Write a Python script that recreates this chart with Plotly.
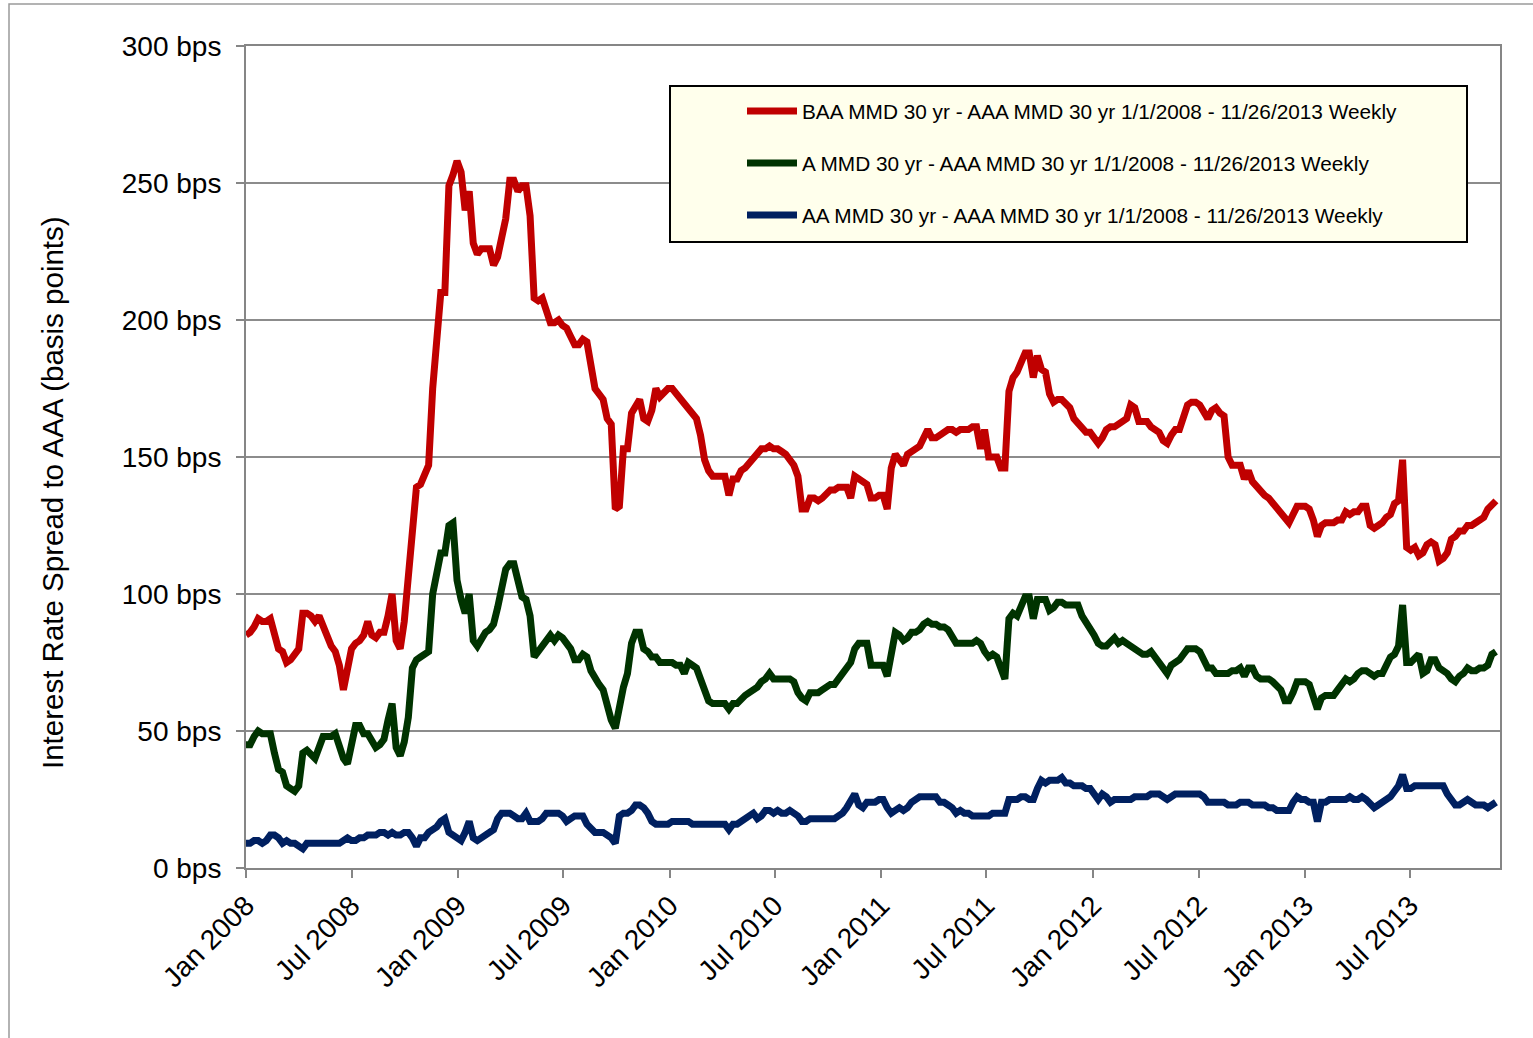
import pandas as pd
import plotly.graph_objects as go

# Weekly observation dates, 1/1/2008 through 11/26/2013
weeks = pd.date_range("2008-01-01", "2013-11-26", freq="7D")

# BAA MMD 30 yr minus AAA MMD 30 yr (bps), one value per week
baa_spread = [
    # 2008
    85, 86, 88, 91, 90, 90, 91, 84, 80, 79,
    75, 76, 78, 80, 93, 93, 92, 90, 92, 88,
    84, 81, 79, 74, 65, 73, 80, 82, 83, 85,
    90, 85, 84, 86, 86, 92, 100, 83, 80, 90,
    106, 123, 139, 140, 144, 147, 175, 190, 210, 210,
    249, 253, 258,
    # 2009
    254, 240, 247, 228, 224, 226, 226, 226, 220, 223,
    230, 237, 251, 251, 247, 249, 249, 238, 208, 207,
    208, 203, 199, 199, 200, 198, 197, 194, 191, 191,
    193, 192, 184, 175, 173, 171, 164, 162, 131, 132,
    153, 153, 166, 168, 171, 164, 163, 167, 175, 172,
    174, 175,
    # 2010
    175, 173, 172, 169, 168, 165, 164, 158, 149, 145,
    143, 143, 143, 143, 136, 142, 142, 145, 146, 148,
    150, 151, 153, 153, 154, 153, 153, 152, 151, 149,
    147, 143, 131, 131, 135, 135, 134, 135, 137, 138,
    138, 139, 139, 139, 135, 143, 142, 141, 140, 135,
    135, 136,
    # 2011
    136, 131, 146, 151, 149, 147, 151, 152, 153, 154,
    157, 160, 157, 157, 158, 159, 160, 160, 159, 160,
    160, 160, 161, 161, 153, 160, 150, 150, 150, 146,
    146, 174, 179, 181, 185, 188, 188, 179, 187, 182,
    181, 173, 170, 171, 171, 169, 168, 164, 162, 160,
    159, 159,
    # 2012
    157, 155, 157, 160, 161, 161, 162, 163, 164, 169,
    168, 163, 163, 163, 161, 160, 159, 156, 155, 158,
    160, 160, 165, 169, 170, 170, 169, 166, 164, 167,
    168, 166, 165, 150, 147, 147, 147, 142, 145, 141,
    139, 137, 136, 135, 133, 131, 130, 127, 126, 129,
    132, 132,
    # 2013
    132, 131, 127, 121, 125, 126, 126, 126, 127, 127,
    130, 129, 130, 130, 132, 132, 125, 124, 125, 126,
    128, 129, 133, 134, 149, 117, 116, 117, 114, 115,
    118, 119, 118, 112, 113, 115, 120, 121, 123, 123,
    125, 125, 126, 127, 128, 131, 133, 134,
]

# A MMD 30 yr minus AAA MMD 30 yr (bps)
a_spread = [
    # 2008
    45, 45, 48, 50, 49, 49, 49, 42, 36, 35,
    30, 29, 28, 30, 42, 43, 41, 40, 44, 48,
    48, 48, 49, 44, 40, 38, 45, 52, 52, 49,
    49, 46, 44, 45, 47, 54, 60, 44, 41, 46,
    55, 73, 76, 77, 78, 79, 100, 107, 115, 115,
    125, 126, 105,
    # 2009
    98, 93, 100, 83, 81, 84, 86, 87, 89, 95,
    102, 109, 111, 111, 105, 99, 98, 92, 77, 79,
    81, 83, 85, 83, 85, 84, 82, 80, 76, 76,
    78, 77, 72, 69, 67, 65, 59, 54, 51, 60,
    66, 71, 82, 86, 86, 80, 79, 77, 77, 75,
    75, 75,
    # 2010
    75, 74, 74, 71, 75, 74, 73, 69, 65, 61,
    60, 60, 60, 60, 58, 60, 60, 62, 63, 64,
    65, 66, 68, 69, 71, 69, 69, 69, 69, 69,
    68, 64, 62, 61, 64, 64, 64, 65, 66, 67,
    67, 69, 72, 74, 75, 80, 82, 82, 82, 74,
    74, 74,
    # 2011
    74, 70, 79, 86, 85, 83, 84, 86, 86, 87,
    89, 90, 89, 89, 88, 88, 87, 84, 82, 82,
    82, 82, 82, 83, 82, 79, 77, 78, 77, 73,
    69, 91, 93, 92, 96, 99, 99, 91, 98, 98,
    98, 94, 95, 97, 97, 96, 96, 96, 96, 92,
    90, 88,
    # 2012
    85, 82, 81, 81, 83, 84, 82, 83, 82, 81,
    80, 79, 78, 78, 79, 77, 75, 73, 71, 74,
    75, 76, 78, 80, 80, 80, 79, 76, 73, 73,
    71, 71, 71, 71, 72, 72, 73, 70, 73, 73,
    70, 69, 69, 69, 68, 66, 65, 61, 61, 64,
    68, 68,
    # 2013
    68, 67, 63, 58, 62, 63, 63, 63, 65, 67,
    69, 68, 69, 71, 72, 72, 71, 70, 71, 71,
    74, 77, 78, 81, 96, 75, 75, 77, 78, 71,
    72, 76, 76, 73, 72, 71, 69, 68, 70, 71,
    73, 72, 72, 73, 73, 74, 78, 79,
]

# AA MMD 30 yr minus AAA MMD 30 yr (bps)
aa_spread = [
    # 2008
    9, 9, 10, 10, 9, 10, 12, 12, 11, 9,
    10, 9, 9, 8, 7, 9, 9, 9, 9, 9,
    9, 9, 9, 9, 10, 11, 10, 10, 11, 11,
    12, 12, 12, 13, 13, 12, 13, 12, 12, 13,
    13, 11, 8, 11, 11, 13, 14, 15, 17, 18,
    13, 12, 11,
    # 2009
    10, 13, 17, 11, 10, 11, 12, 13, 14, 18,
    20, 20, 20, 19, 18, 18, 20, 17, 17, 17,
    18, 20, 20, 20, 20, 19, 17, 18, 19, 19,
    19, 16, 14, 13, 13, 13, 12, 11, 9, 19,
    20, 20, 21, 23, 23, 22, 20, 17, 16, 16,
    16, 16,
    # 2010
    17, 17, 17, 17, 17, 16, 16, 16, 16, 16,
    16, 16, 16, 16, 14, 16, 16, 17, 18, 19,
    20, 18, 19, 21, 21, 20, 21, 20, 20, 21,
    20, 19, 17, 17, 18, 18, 18, 18, 18, 18,
    18, 19, 20, 22, 24, 27, 23, 22, 24, 24,
    24, 25,
    # 2011
    25, 22, 20, 21, 22, 21, 22, 24, 25, 26,
    26, 26, 26, 26, 24, 24, 23, 22, 20, 21,
    20, 20, 19, 19, 19, 19, 19, 20, 20, 20,
    20, 25, 25, 25, 26, 26, 25, 25, 29, 32,
    31, 32, 32, 32, 33, 31, 31, 30, 30, 30,
    29, 29,
    # 2012
    27, 25, 27, 26, 24, 25, 25, 25, 25, 25,
    26, 26, 26, 26, 27, 27, 27, 26, 25, 26,
    27, 27, 27, 27, 27, 27, 27, 26, 24, 24,
    24, 24, 24, 23, 23, 23, 24, 24, 24, 23,
    23, 23, 23, 22, 22, 21, 21, 21, 21, 24,
    26, 25,
    # 2013
    25, 24, 24, 17, 24, 24, 25, 25, 25, 25,
    25, 26, 25, 25, 26, 25, 23, 22, 23, 24,
    25, 26, 28, 30, 34, 29, 29, 30, 30, 30,
    30, 30, 30, 30, 30, 27, 25, 23, 23, 24,
    25, 24, 23, 23, 23, 22, 23, 24,
]

assert len(weeks) == len(baa_spread) == len(a_spread) == len(aa_spread)

series_names = [
    "BAA MMD 30 yr - AAA MMD 30 yr 1/1/2008 - 11/26/2013 Weekly",
    "A MMD 30 yr - AAA MMD 30 yr 1/1/2008 - 11/26/2013 Weekly",
    "AA MMD 30 yr - AAA MMD 30 yr 1/1/2008 - 11/26/2013 Weekly",
]
series_values = [baa_spread, a_spread, aa_spread]
series_colors = ["#C00000", "#003300", "#002060"]

tick_dates = [
    "2008-01-01", "2008-07-01", "2009-01-01", "2009-07-01",
    "2010-01-01", "2010-07-01", "2011-01-01", "2011-07-01",
    "2012-01-01", "2012-07-01", "2013-01-01", "2013-07-01",
]
tick_labels = [
    "Jan 2008", "Jul 2008", "Jan 2009", "Jul 2009",
    "Jan 2010", "Jul 2010", "Jan 2011", "Jul 2011",
    "Jan 2012", "Jul 2012", "Jan 2013", "Jul 2013",
]

W, H = 1533, 1038
ML, MR, MT, MB = 246, 33, 46, 170
FONT = "Arial, 'Liberation Sans', sans-serif"
AXIS_GRAY = "#868686"


def paper_x(px):
    return (px - ML) / (W - ML - MR)


def paper_y(py):
    return (H - MB - py) / (H - MT - MB)


fig = go.Figure()
for name, vals, color in zip(series_names, series_values, series_colors):
    fig.add_trace(go.Scatter(
        x=weeks, y=vals, mode="lines", name=name, legendgroup=name,
        line=dict(color=color, width=7, shape="linear"),
    ))

fig.update_layout(
    width=W, height=H,
    margin=dict(l=ML, r=MR, t=MT, b=MB, autoexpand=False),
    paper_bgcolor="white", plot_bgcolor="white",
    font=dict(family=FONT, color="black"),
    showlegend=True,
    legend=dict(
        x=paper_x(742), y=paper_y(91), xanchor="left", yanchor="top",
        bgcolor="rgba(0,0,0,0)", borderwidth=0,
        font=dict(family=FONT, size=20.8, color="black"),
        itemwidth=50, tracegroupgap=22, traceorder="grouped",
    ),
    xaxis=dict(
        type="date", range=["2008-01-01", "2013-12-03"],
        tickmode="array", tickvals=tick_dates, ticktext=tick_labels,
        tickangle=-45, tickfont=dict(size=28, family=FONT),
        ticks="outside", ticklen=8, tickwidth=2, tickcolor=AXIS_GRAY,
        showline=True, linecolor=AXIS_GRAY, linewidth=2, mirror=True,
        showgrid=False, zeroline=False,
    ),
    yaxis=dict(
        range=[0, 300], tick0=0, dtick=50, ticksuffix=" bps",
        tickfont=dict(size=28, family=FONT),
        ticks="outside", ticklen=8, tickwidth=2, tickcolor=AXIS_GRAY,
        ticklabelstandoff=9,
        showline=True, linecolor=AXIS_GRAY, linewidth=2, mirror=True,
        showgrid=True, gridcolor="#8c8c8c", gridwidth=1.5, zeroline=False,
    ),
    annotations=[dict(
        text="Interest Rate Spread to AAA (basis points)",
        xref="paper", yref="paper", x=paper_x(53), y=paper_y(493),
        xanchor="center", yanchor="middle", textangle=-90, showarrow=False,
        font=dict(family=FONT, size=29.5, color="black"),
    )],
    shapes=[
        # outer frame of the picture
        dict(type="rect", xref="paper", yref="paper",
             x0=paper_x(9), x1=paper_x(1560), y0=paper_y(1060), y1=paper_y(4),
             line=dict(color="#9a9a9a", width=1.5), fillcolor="rgba(0,0,0,0)",
             layer="below"),
        # legend panel
        dict(type="rect", xref="paper", yref="paper",
             x0=paper_x(670), x1=paper_x(1467), y0=paper_y(242), y1=paper_y(86),
             line=dict(color="black", width=2), fillcolor="#FFFFEC",
             layer="above"),
    ],
)

fig.write_html("out.html")
